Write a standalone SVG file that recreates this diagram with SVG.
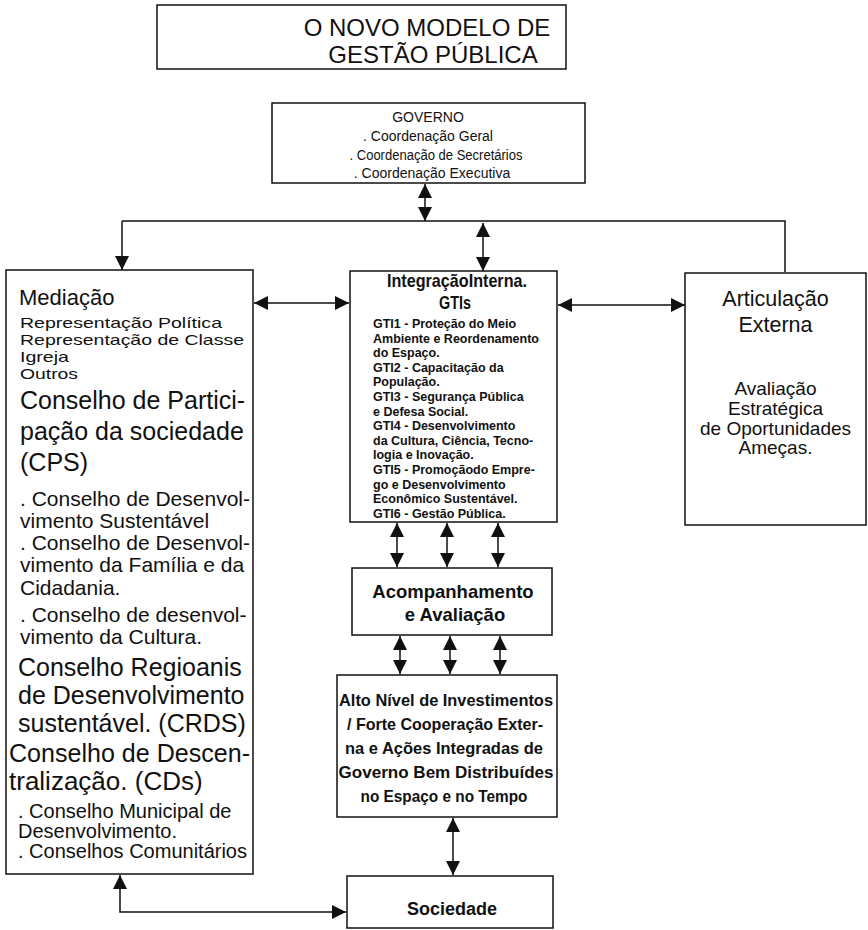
<svg xmlns="http://www.w3.org/2000/svg" width="868" height="930" viewBox="0 0 868 930">
  <defs>
    <marker id="ah" viewBox="0 0 14 14" refX="14" refY="7" markerWidth="14" markerHeight="14" markerUnits="userSpaceOnUse" orient="auto-start-reverse">
      <path d="M0,0 L14,7 L0,14 z" fill="#111"/>
    </marker>
    <style>
      .box { fill: #fff; stroke: #111; stroke-width: 1.5; }
      .t { font-family: "Liberation Sans", Arial, sans-serif; fill: #111; }
      .c { text-anchor: middle; }
      .b { font-weight: bold; }
      .link { fill: none; stroke: #111; stroke-width: 1.5; }
      .two { marker-start: url(#ah); marker-end: url(#ah); }
      .one { marker-end: url(#ah); }
    </style>
  </defs>
  <rect width="868" height="930" fill="#fff"/>

  <!-- title -->
  <g id="title">
    <rect class="box" x="157" y="5" width="409" height="64"/>
    <text class="t c" x="427" y="36" font-size="24">O NOVO MODELO DE</text>
    <text class="t c" x="433" y="63" font-size="24">GESTÃO PÚBLICA</text>
  </g>

  <!-- connectors -->
  <g id="connectors">
    <line class="link two" x1="425" y1="184" x2="425" y2="221"/>
    <path class="link" d="M122,221 H785 V272"/>
    <line class="link one" x1="122" y1="221" x2="122" y2="270"/>
    <line class="link two" x1="483" y1="223" x2="483" y2="271"/>
    <line class="link two" x1="254" y1="303" x2="349" y2="303"/>
    <line class="link two" x1="558" y1="305" x2="685" y2="305"/>
    <line class="link two" x1="397" y1="523" x2="397" y2="567"/>
    <line class="link two" x1="447" y1="523" x2="447" y2="567"/>
    <line class="link two" x1="498" y1="523" x2="498" y2="567"/>
    <line class="link two" x1="400" y1="636" x2="400" y2="674"/>
    <line class="link two" x1="450" y1="636" x2="450" y2="674"/>
    <line class="link two" x1="500" y1="636" x2="500" y2="674"/>
    <line class="link two" x1="453" y1="818" x2="453" y2="875"/>
    <path class="link two" d="M120,875 V912 H346"/>
  </g>

  <!-- governo -->
  <g id="governo">
    <rect class="box" x="272" y="103" width="313" height="80"/>
    <text class="t c" x="428" y="122" font-size="14">GOVERNO</text>
    <text class="t c" x="428" y="141" font-size="14">. Coordenação Geral</text>
    <text class="t c" x="436" y="160" font-size="14" textLength="173" lengthAdjust="spacingAndGlyphs">. Coordenação de Secretários</text>
    <text class="t c" x="432" y="178" font-size="14">. Coordenação Executiva</text>
  </g>

  <!-- mediacao -->
  <g id="mediacao">
    <rect class="box" x="6" y="270" width="247" height="604"/>
    <text class="t" x="19" y="305" font-size="22">Mediação</text>
    <text class="t" x="20" y="328" font-size="15" textLength="202" lengthAdjust="spacingAndGlyphs">Representação Política</text>
    <text class="t" x="20" y="345" font-size="15" textLength="224" lengthAdjust="spacingAndGlyphs">Representação de Classe</text>
    <text class="t" x="20" y="362" font-size="15" textLength="49" lengthAdjust="spacingAndGlyphs">Igreja</text>
    <text class="t" x="20" y="379" font-size="15" textLength="58" lengthAdjust="spacingAndGlyphs">Outros</text>
    <text class="t" x="20" y="409" font-size="25">Conselho de Partici-</text>
    <text class="t" x="20" y="440" font-size="25">pação da sociedade</text>
    <text class="t" x="20" y="471" font-size="25">(CPS)</text>
    <text class="t" x="20" y="506" font-size="21">. Conselho de Desenvol-</text>
    <text class="t" x="20" y="528" font-size="21">vimento Sustentável</text>
    <text class="t" x="20" y="550" font-size="21">. Conselho de Desenvol-</text>
    <text class="t" x="20" y="572" font-size="21">vimento da Família e da</text>
    <text class="t" x="20" y="595" font-size="21">Cidadania.</text>
    <text class="t" x="20" y="622" font-size="21">. Conselho de desenvol-</text>
    <text class="t" x="20" y="644" font-size="21">vimento da Cultura.</text>
    <text class="t" x="18" y="676" font-size="25">Conselho Regioanis</text>
    <text class="t" x="18" y="704" font-size="25">de Desenvolvimento</text>
    <text class="t" x="18" y="732" font-size="25">sustentável. (CRDS)</text>
    <text class="t" x="9" y="762" font-size="26" textLength="241" lengthAdjust="spacingAndGlyphs">Conselho de Descen-</text>
    <text class="t" x="9" y="790" font-size="26">tralização. (CDs)</text>
    <text class="t" x="18" y="818" font-size="20">. Conselho Municipal de</text>
    <text class="t" x="18" y="838" font-size="20">Desenvolvimento.</text>
    <text class="t" x="18" y="858" font-size="20">. Conselhos Comunitários</text>
  </g>

  <!-- integracao -->
  <g id="integracao">
    <rect class="box" x="350" y="271" width="207" height="251"/>
    <text class="t c b" x="457" y="287" font-size="18.5" textLength="140" lengthAdjust="spacingAndGlyphs">IntegraçãoInterna.</text>
    <text class="t c b" x="455" y="309" font-size="18.5" textLength="32" lengthAdjust="spacingAndGlyphs">GTIs</text>
    <g class="t b" font-size="12.5">
      <text x="373" y="328">GTI1 - Proteção do Meio</text>
      <text x="373" y="342.6">Ambiente e Reordenamento</text>
      <text x="373" y="357.2">do Espaço.</text>
      <text x="373" y="371.8">GTI2 - Capacitação da</text>
      <text x="373" y="386.4">População.</text>
      <text x="373" y="401">GTI3 - Segurança Pública</text>
      <text x="373" y="415.6">e Defesa Social.</text>
      <text x="373" y="430.2">GTI4 - Desenvolvimento</text>
      <text x="373" y="444.8">da Cultura, Ciência, Tecno-</text>
      <text x="373" y="459.4">logia e Inovação.</text>
      <text x="373" y="474">GTI5 - Promoçãodo Empre-</text>
      <text x="373" y="488.6">go e Desenvolvimento</text>
      <text x="373" y="503.2">Econômico Sustentável.</text>
      <text x="373" y="517.8">GTI6 - Gestão Pública.</text>
    </g>
  </g>

  <!-- articulacao -->
  <g id="articulacao">
    <rect class="box" x="685" y="273" width="181" height="252"/>
    <text class="t c" x="775.5" y="306" font-size="21.5">Articulação</text>
    <text class="t c" x="775.5" y="332" font-size="21.5">Externa</text>
    <text class="t c" x="775.5" y="395" font-size="19">Avaliação</text>
    <text class="t c" x="775.5" y="415" font-size="19">Estratégica</text>
    <text class="t c" x="775.5" y="435" font-size="19">de Oportunidades</text>
    <text class="t c" x="775.5" y="454" font-size="19">Ameças.</text>
  </g>

  <!-- acompanhamento -->
  <g id="acompanhamento">
    <rect class="box" x="352" y="568" width="200" height="67"/>
    <text class="t c b" x="453" y="598" font-size="18.5">Acompanhamento</text>
    <text class="t c b" x="455" y="621" font-size="18.5">e Avaliação</text>
  </g>

  <!-- investimentos -->
  <g id="investimentos">
    <rect class="box" x="337" y="675" width="220" height="142"/>
    <g class="t c b" font-size="17">
      <text x="446" y="706" textLength="214" lengthAdjust="spacingAndGlyphs">Alto Nível de Investimentos</text>
      <text x="445" y="730" textLength="196" lengthAdjust="spacingAndGlyphs">/ Forte Cooperação Exter-</text>
      <text x="444" y="754" textLength="198" lengthAdjust="spacingAndGlyphs">na e Ações Integradas de</text>
      <text x="446" y="778" textLength="215" lengthAdjust="spacingAndGlyphs">Governo Bem Distribuídes</text>
      <text x="444" y="802" textLength="167" lengthAdjust="spacingAndGlyphs">no Espaço e no Tempo</text>
    </g>
  </g>

  <!-- sociedade -->
  <g id="sociedade">
    <rect class="box" x="347" y="876" width="206" height="52"/>
    <text class="t c b" x="452" y="915" font-size="18">Sociedade</text>
  </g>
</svg>
